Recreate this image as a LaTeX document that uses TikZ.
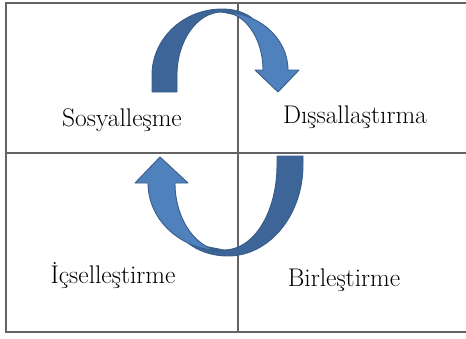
\documentclass[tikz,border=0pt]{standalone}
\usepackage{fontspec}
\usepackage{tikz}

\definecolor{frontblue}{RGB}{79,129,189}
\definecolor{backblue}{RGB}{61,101,152}
\definecolor{edgeblue}{RGB}{56,93,138}
\definecolor{gridgray}{RGB}{100,100,100}

\begin{document}
\begin{tikzpicture}[x=1pt,y=-1pt,
  gridline/.style={draw=gridgray,line width=1.1pt},
  backface/.style={fill=backblue,draw=edgeblue,line width=0.9pt,line join=round},
  frontface/.style={fill=frontblue,draw=edgeblue,line width=0.9pt,line join=round},
  label/.style={anchor=base,inner sep=0pt,font=\fontsize{25.5}{30}\selectfont}]
\useasboundingbox (0,0) rectangle (466,338);

% the four fields
\draw[gridline] (466,3) -- (6,3) -- (6,332) -- (466,332);
\draw[gridline] (238,3) -- (238,332);
\draw[gridline] (6,153) -- (466,153);

\node[label] (sosyal) at (122,126) {Sosyalleşme};
\node[label] (dissal) at (355,123) {Dışsallaştırma};
\node[label] (icsel) at (113,283) {İçselleştirme};
\node[label] (birles) at (344,286) {Birleştirme};

% upper arrow
\begin{scope}
  \draw[backface] (152,92) -- (152,75)
    .. controls (152,38.6) and (183.4,9) .. (222,9)
    .. controls (234,9) and (244,12) .. (252,18)
    -- (222,12)
    .. controls (197,12) and (177,41) .. (177,75)
    -- (177,92) -- cycle;
  \draw[frontface] (222,12)
    .. controls (258.4,12) and (288,38) .. (288,70)
    -- (299,70) -- (278,92) -- (255,70) -- (263,70)
    .. controls (263,38) and (244.6,12) .. (222,12) -- cycle;
\end{scope}

% lower arrow
\begin{scope}
  \draw[backface] (277,156) -- (303,156) -- (303,165)
    .. controls (303,215) and (269.4,256) .. (228,256)
    .. controls (212,256) and (198,251) .. (188,243)
    -- (224,250)
    .. controls (254,250) and (277,212) .. (277,165)
    -- cycle;
  \draw[frontface] (224,251)
    .. controls (181.5,251) and (148,220.5) .. (148,183)
    -- (135,183) -- (160,157) -- (188,183) -- (175,183)
    .. controls (175,220.5) and (197.4,251) .. (224,251) -- cycle;
\end{scope}
\end{tikzpicture}
\end{document}
